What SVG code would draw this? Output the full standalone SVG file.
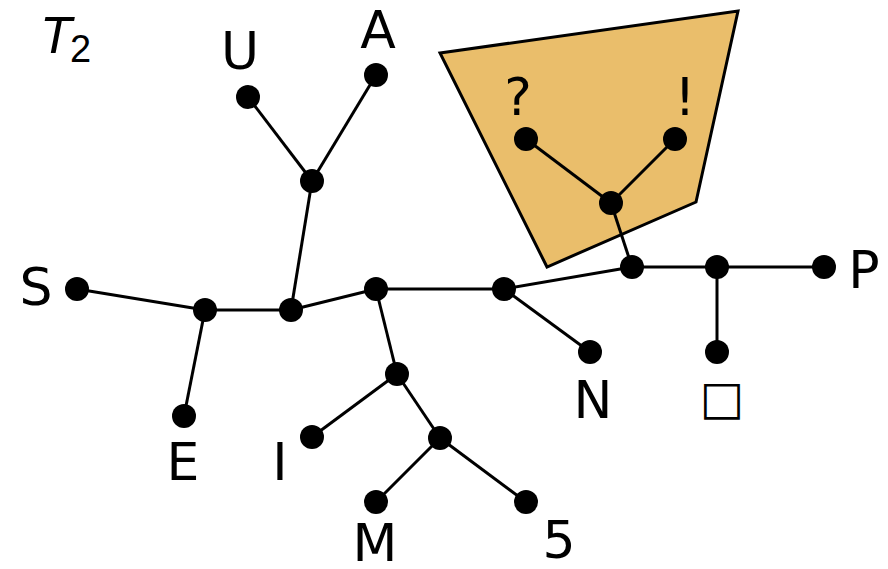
<svg xmlns="http://www.w3.org/2000/svg" width="888" height="569" viewBox="0 0 888 569">
<style>
.e{stroke:#000;stroke-width:3;fill:none}
.n{fill:#000}
.t{font-family:"DejaVu Sans",sans-serif;font-size:52px;fill:#000;text-anchor:middle}
</style>
<rect width="888" height="569" fill="#fff"/>
<polygon id="region" points="440,53 738,11 696,202 547,267" fill="#EABE6B" stroke="#000" stroke-width="3"/>
<g id="title">
<text x="40" y="53" style="font-family:'Liberation Sans',sans-serif;font-size:52px;font-style:italic">T</text>
<text x="70" y="62" style="font-family:'Liberation Sans',sans-serif;font-size:38px">2</text>
</g>
<g id="connectors">
<line class="e" x1="248" y1="97" x2="312" y2="181"/>
<line class="e" x1="376" y1="75" x2="312" y2="181"/>
<line class="e" x1="312" y1="181" x2="291" y2="310"/>
<line class="e" x1="77" y1="289" x2="205" y2="310"/>
<line class="e" x1="205" y1="310" x2="184" y2="416"/>
<line class="e" x1="205" y1="310" x2="291" y2="310"/>
<line class="e" x1="291" y1="310" x2="376" y2="289"/>
<line class="e" x1="376" y1="289" x2="504" y2="289"/>
<line class="e" x1="376" y1="289" x2="397" y2="374"/>
<line class="e" x1="397" y1="374" x2="312" y2="437"/>
<line class="e" x1="397" y1="374" x2="440" y2="438"/>
<line class="e" x1="440" y1="438" x2="376" y2="502"/>
<line class="e" x1="440" y1="438" x2="526" y2="502"/>
<line class="e" x1="504" y1="289" x2="590" y2="352"/>
<line class="e" x1="504" y1="289" x2="632" y2="267"/>
<line class="e" x1="632" y1="267" x2="611" y2="203"/>
<line class="e" x1="611" y1="203" x2="526" y2="139"/>
<line class="e" x1="611" y1="203" x2="675" y2="139"/>
<line class="e" x1="632" y1="267" x2="717" y2="267"/>
<line class="e" x1="717" y1="267" x2="824" y2="267"/>
<line class="e" x1="717" y1="267" x2="717" y2="352"/>
</g>
<g id="nU"><circle class="n" cx="248" cy="97" r="12"/><text class="t" x="240" y="69">U</text></g>
<g id="nA"><circle class="n" cx="376" cy="75" r="12"/><text class="t" x="378" y="48">A</text></g>
<g id="nUA"><circle class="n" cx="312" cy="181" r="12"/></g>
<g id="nS"><circle class="n" cx="77" cy="289" r="12"/><text class="t" x="36" y="305">S</text></g>
<g id="nSE"><circle class="n" cx="205" cy="310" r="12"/></g>
<g id="nE"><circle class="n" cx="184" cy="416" r="12"/><text class="t" x="183" y="480">E</text></g>
<g id="n2"><circle class="n" cx="291" cy="310" r="12"/></g>
<g id="n3"><circle class="n" cx="376" cy="289" r="12"/></g>
<g id="n4"><circle class="n" cx="504" cy="289" r="12"/></g>
<g id="nN"><circle class="n" cx="590" cy="352" r="12"/><text class="t" x="593" y="418">N</text></g>
<g id="n5i"><circle class="n" cx="632" cy="267" r="12"/></g>
<g id="nQE"><circle class="n" cx="611" cy="203" r="12"/></g>
<g id="nQ"><circle class="n" cx="526" cy="139" r="12"/><text class="t" x="518" y="115">?</text></g>
<g id="nX"><circle class="n" cx="675" cy="139" r="12"/><text class="t" x="685" y="115">!</text></g>
<g id="n6"><circle class="n" cx="717" cy="267" r="12"/></g>
<g id="nP"><circle class="n" cx="824" cy="267" r="12"/><text class="t" x="864" y="288">P</text></g>
<g id="nBox"><circle class="n" cx="717" cy="352" r="12"/><text class="t" x="722" y="414" style="font-size:47px">□</text></g>
<g id="n7"><circle class="n" cx="397" cy="374" r="12"/></g>
<g id="nI"><circle class="n" cx="312" cy="437" r="12"/><text class="t" x="280" y="480">I</text></g>
<g id="n8"><circle class="n" cx="440" cy="438" r="12"/></g>
<g id="nM"><circle class="n" cx="376" cy="502" r="12"/><text class="t" x="375" y="561">M</text></g>
<g id="n5"><circle class="n" cx="526" cy="502" r="12"/><text class="t" x="559" y="558">5</text></g>
</svg>
